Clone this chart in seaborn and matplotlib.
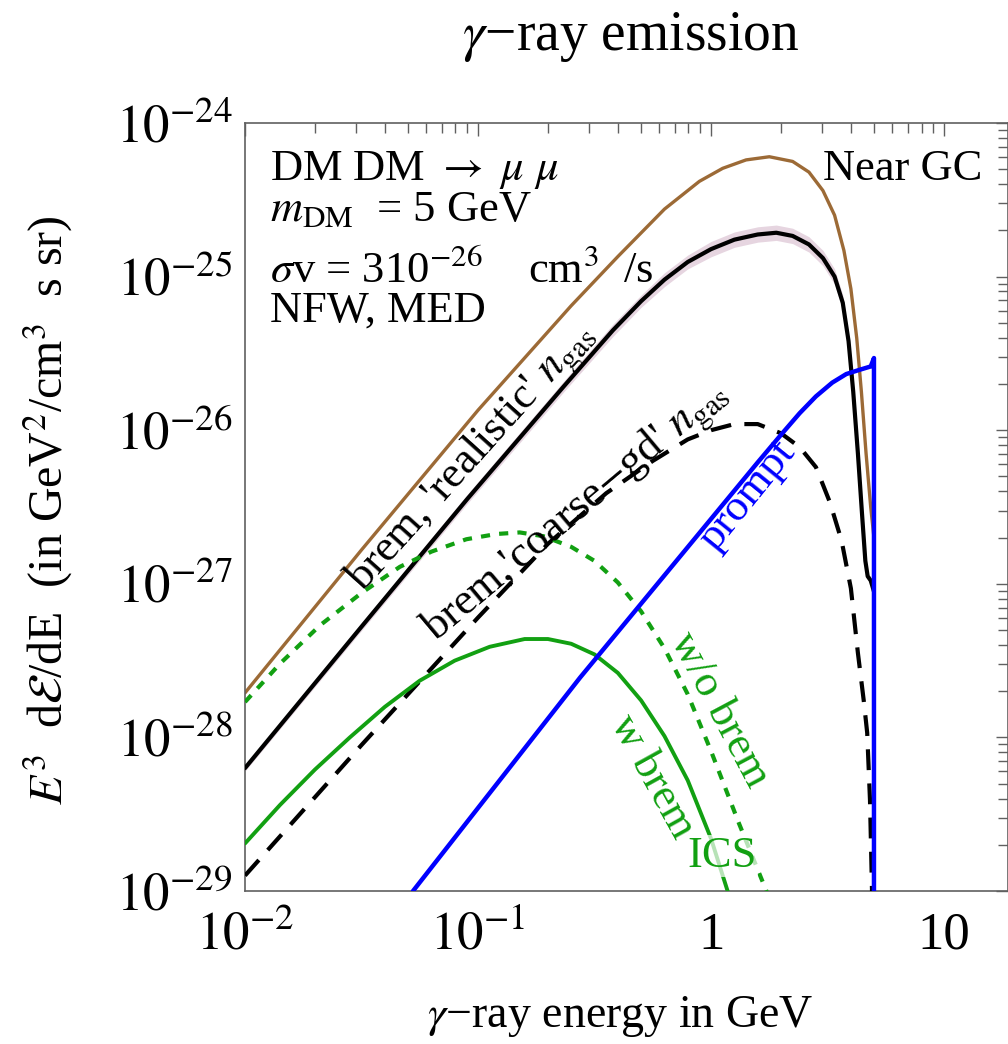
import matplotlib
matplotlib.use("Agg")
import matplotlib.pyplot as plt
import matplotlib.ticker as mticker
import numpy as np
import seaborn as sns

# ---------------- data ----------------
brown_E = [0.01, 0.0316, 0.1, 0.251, 0.398, 0.631, 0.891, 1.122, 1.413, 1.778, 2.239,
           2.630, 3.020, 3.388, 3.715, 3.981, 4.217, 4.416, 4.624, 4.842, 5.0]
brown_Y = [1.95e-28, 1.66e-27, 1.35e-26, 6.46e-26, 1.35e-25, 2.75e-25, 4.17e-25, 5.07e-25,
           5.75e-25, 6.03e-25, 5.62e-25, 4.79e-25, 3.63e-25, 2.51e-25, 1.48e-25, 8.32e-26,
           3.98e-26, 1.78e-26, 7.08e-27, 3.16e-27, 2.0e-27]

black_E = [0.01, 0.0316, 0.0897, 0.232, 0.379, 0.501, 0.631, 0.794, 1.0, 1.259, 1.585,
           1.905, 2.239, 2.630, 3.020, 3.388, 3.673, 3.890, 4.074, 4.266, 4.446, 4.592,
           4.699, 4.842, 5.0]
black_Y = [6.31e-29, 5.25e-28, 3.55e-27, 1.91e-26, 4.47e-26, 6.92e-26, 9.55e-26, 1.245e-25,
           1.51e-25, 1.74e-25, 1.88e-25, 1.93e-25, 1.84e-25, 1.62e-25, 1.32e-25, 1.0e-25,
           6.76e-26, 3.80e-26, 1.78e-26, 7.08e-27, 2.82e-27, 1.41e-27, 1.12e-27, 1.05e-27,
           8.91e-28]
band_dex = [0.02, 0.025, 0.03, 0.035, 0.04, 0.04, 0.045, 0.045, 0.05, 0.05, 0.05, 0.05,
            0.05, 0.05, 0.05, 0.05, 0.05, 0.045, 0.04, 0.035, 0.03, 0.02, 0.01, 0.01, 0.01]

dashed_E = [0.01, 0.0316, 0.1, 0.1995, 0.355, 0.562, 0.794, 1.0, 1.259, 1.585, 1.995,
            2.399, 2.818, 3.236, 3.631, 3.981, 4.266, 4.519, 4.677, 4.808, 4.955]
dashed_Y = [1.26e-29, 8.91e-29, 6.03e-28, 1.82e-27, 3.89e-27, 6.31e-27, 8.71e-27, 1.0e-26,
            1.096e-26, 1.096e-26, 9.55e-27, 7.76e-27, 5.75e-27, 3.39e-27, 1.91e-27,
            9.33e-28, 3.55e-28, 1.74e-28, 1.07e-28, 3.89e-29, 5.01e-30]

icsnob_E = [0.01, 0.01413, 0.0210, 0.0316, 0.0462, 0.0631, 0.0891, 0.120, 0.151, 0.191,
            0.251, 0.316, 0.398, 0.501, 0.631, 0.794, 1.0, 1.318, 1.738]
icsnob_Y = [1.70e-28, 3.02e-28, 5.37e-28, 8.71e-28, 1.29e-27, 1.62e-27, 1.95e-27, 2.11e-27,
            2.16e-27, 2.04e-27, 1.74e-27, 1.41e-27, 1.02e-27, 6.61e-28, 3.80e-28, 1.91e-28,
            8.13e-29, 2.75e-29, 9.77e-30]

icsb_E = [0.01, 0.01413, 0.01995, 0.02818, 0.0398, 0.0562, 0.0794, 0.1122, 0.1585, 0.1995,
          0.251, 0.316, 0.398, 0.501, 0.631, 0.794, 1.0, 1.183]
icsb_Y = [2.04e-29, 3.63e-29, 6.17e-29, 1.0e-28, 1.58e-28, 2.34e-28, 3.16e-28, 3.89e-28,
          4.37e-28, 4.37e-28, 4.07e-28, 3.47e-28, 2.63e-28, 1.74e-28, 1.02e-28, 5.25e-29,
          2.19e-29, 9.77e-30]

prompt_E = [0.0526, 0.274, 1.585, 1.995, 2.399, 2.818, 3.311, 3.802, 4.365, 4.842, 5.0, 5.0]
prompt_Y = [1.0e-29, 2.45e-28, 6.17e-27, 9.33e-27, 1.29e-26, 1.66e-26, 2.04e-26, 2.32e-26,
            2.48e-26, 2.60e-26, 2.95e-26, 2.5e-30]

x_ticks = [0.01, 0.1, 1, 10]
x_ticklabels = [r"$10^{-2}$", r"$10^{-1}$", "1", "10"]
y_ticks = [1e-29, 1e-28, 1e-27, 1e-26, 1e-25, 1e-24]
y_ticklabels = [r"$10^{-29}$", r"$10^{-28}$", r"$10^{-27}$", r"$10^{-26}$",
                r"$10^{-25}$", r"$10^{-24}$"]

# ---------------- style ----------------
sns.set_style("white")
plt.rcParams["font.family"] = ["Liberation Serif", "DejaVu Serif"]
plt.rcParams["mathtext.fontset"] = "stix"
plt.rcParams["text.color"] = "black"
plt.rcParams["xtick.labelcolor"] = "black"
plt.rcParams["ytick.labelcolor"] = "black"

BROWN = "#9c6a36"
GREEN = "#12a012"
BLUE = "#0000ff"
BAND = "#e6d5e0"
SPINE = "#606060"

W, H = 1008, 1044
fig = plt.figure(figsize=(W / 100, H / 100), dpi=100)
L, R, T, B = 245, 1008, 123, 891
ax = fig.add_axes([L / W, 1 - B / H, (R - L) / W, (B - T) / H])
ax.set_xscale("log")
ax.set_yscale("log")

lo = [y * 10 ** (-w) for y, w in zip(black_Y, band_dex)]
hi = [y * 10 ** (w) for y, w in zip(black_Y, band_dex)]
ax.fill_between(black_E, lo, hi, color=BAND, lw=0, zorder=1)

sns.lineplot(x=brown_E, y=brown_Y, ax=ax, color=BROWN, linewidth=2.4,
             estimator=None, sort=False, zorder=2)
sns.lineplot(x=black_E, y=black_Y, ax=ax, color="black", linewidth=3.0,
             estimator=None, sort=False, zorder=3)
sns.lineplot(x=dashed_E, y=dashed_Y, ax=ax, color="black", linewidth=3.0,
             linestyle=(0, (5.0, 3.2)), estimator=None, sort=False, zorder=3)
sns.lineplot(x=icsnob_E, y=icsnob_Y, ax=ax, color=GREEN, linewidth=3.0,
             linestyle=(0, (2.2, 2.2)), estimator=None, sort=False, zorder=4)
sns.lineplot(x=icsb_E, y=icsb_Y, ax=ax, color=GREEN, linewidth=2.8,
             estimator=None, sort=False, zorder=4)
sns.lineplot(x=prompt_E, y=prompt_Y, ax=ax, color=BLUE, linewidth=3.2,
             estimator=None, sort=False, zorder=5)

ax.set_xlim(0.01, 18.8)
ax.set_ylim(1e-29, 1e-24)

ax.xaxis.set_major_locator(mticker.FixedLocator(x_ticks))
ax.xaxis.set_major_formatter(mticker.FixedFormatter(x_ticklabels))
ax.xaxis.set_minor_locator(mticker.LogLocator(base=10, subs=np.arange(2, 10), numticks=20))
ax.xaxis.set_minor_formatter(mticker.NullFormatter())
ax.yaxis.set_major_locator(mticker.FixedLocator(y_ticks))
ax.yaxis.set_major_formatter(mticker.FixedFormatter(y_ticklabels))
ax.yaxis.set_minor_locator(mticker.LogLocator(base=10, subs=np.arange(2, 10), numticks=20))
ax.yaxis.set_minor_formatter(mticker.NullFormatter())

ax.tick_params(which="both", direction="in", top=True, right=True, color=SPINE,
               width=1.0, labelsize=38, labelcolor="black")
ax.tick_params(which="major", length=9)
ax.tick_params(which="minor", length=7)
ax.tick_params(axis="y", pad=9)
ax.tick_params(axis="x", pad=15)
for s in ax.spines.values():
    s.set_color(SPINE)
    s.set_linewidth(1.2)
ax.set_xlabel("")
ax.set_ylabel("")

def axf(px, py):
    return (px - L) / (R - L), (B - py) / (B - T)

# annotations
fs = 32
ax.text(*axf(270, 180), r"DM DM $\rightarrow$ $\mu$ $\mu$", transform=ax.transAxes,
        fontsize=fs, va="baseline", ha="left")
ax.text(*axf(270, 221), r"$m_{\rm DM}$  = 5 GeV", transform=ax.transAxes,
        fontsize=fs, va="baseline", ha="left")
ax.text(*axf(270, 283), r"$\sigma$v = 310$^{-26}$    cm$^{3}$  /s", transform=ax.transAxes,
        fontsize=fs, va="baseline", ha="left")
ax.text(*axf(270, 322), "NFW, MED", transform=ax.transAxes,
        fontsize=fs, va="baseline", ha="left")
ax.text(*axf(982, 180), "Near GC", transform=ax.transAxes,
        fontsize=fs, va="baseline", ha="right")

ax.text(*axf(472, 458), r"brem, 'realistic' $n_{\rm gas}$", transform=ax.transAxes,
        fontsize=fs, rotation=48, rotation_mode="anchor", ha="center", va="center",
        zorder=6)
ax.text(*axf(577, 512), r"brem,'coarse$-$gd' $n_{\rm gas}$", transform=ax.transAxes,
        fontsize=fs, rotation=40, rotation_mode="anchor", ha="center", va="center",
        zorder=6)
ax.text(*axf(747, 495), "prompt", transform=ax.transAxes, color=BLUE,
        fontsize=fs, rotation=51, rotation_mode="anchor", ha="center", va="center",
        zorder=6)
ax.text(*axf(720, 710), "w/o brem", transform=ax.transAxes, color=GREEN,
        fontsize=fs, rotation=-62, rotation_mode="anchor", ha="center", va="center",
        zorder=6)
ax.text(*axf(652, 777), "w brem", transform=ax.transAxes, color=GREEN,
        fontsize=fs, rotation=-61, rotation_mode="anchor", ha="center", va="center",
        zorder=6)
ax.text(*axf(722, 856), "ICS", transform=ax.transAxes, color=GREEN,
        fontsize=fs, ha="center", va="center", zorder=6,
        bbox=dict(facecolor="white", alpha=0.7, edgecolor="none", pad=1))

fig.text(0.626, 1 - 50 / H, r"$\gamma$−ray emission", fontsize=40,
         ha="center", va="baseline")
fig.text(0.615, 1 - 1027 / H, r"$\gamma$−ray energy in GeV", fontsize=33,
         ha="center", va="baseline")
fig.text(48 / W, 0.511, r"$E^3$  d$\mathcal{E}$/dE  (in GeV$^2$/cm$^3$  s sr)",
         fontsize=34.5, rotation=90, ha="center", va="center")

fig.savefig("out.png", dpi=100)
